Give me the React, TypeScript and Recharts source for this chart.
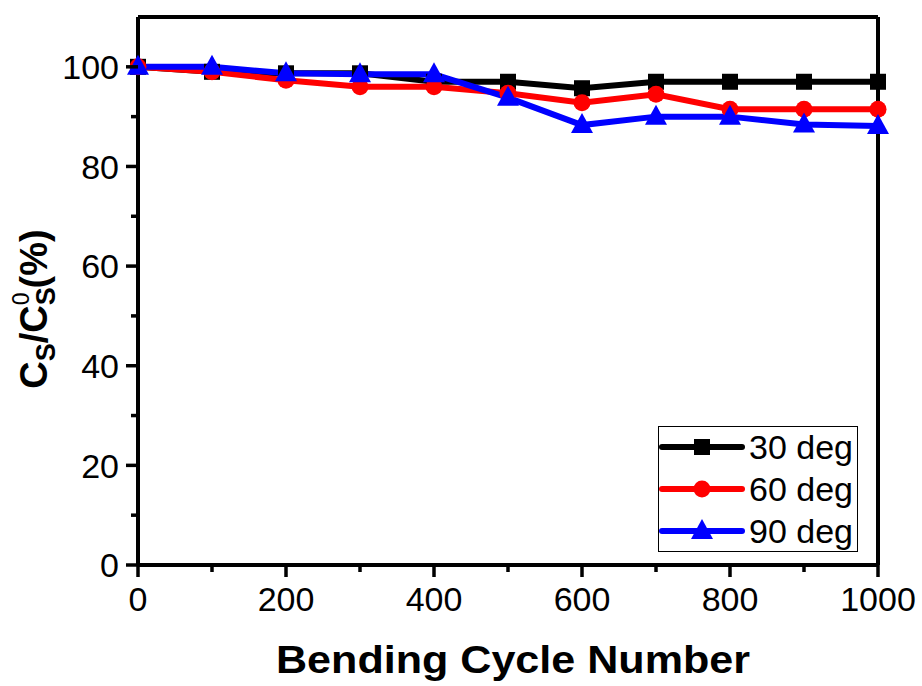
import React from 'react';
import { LineChart, Line, XAxis, YAxis, ReferenceLine, Legend } from 'recharts';

const cycles = [0, 100, 200, 300, 400, 500, 600, 700, 800, 900, 1000];
const deg30 = [100, 99, 98.7, 98.7, 97, 97, 95.7, 97, 97, 97, 97];
const deg60 = [100, 99, 97.3, 96, 96, 94.7, 92.8, 94.5, 91.5, 91.5, 91.5];
const deg90 = [100, 100, 98.7, 98.5, 98.5, 93.8, 88.3, 90, 90, 88.4, 88.1];

const xTicks = [0, 100, 200, 300, 400, 500, 600, 700, 800, 900, 1000];
const yTicks = [0, 10, 20, 30, 40, 50, 60, 70, 80, 90, 100];

const FONT = '"Liberation Sans", Arial, Helvetica, sans-serif';

const series = [
  { key: 'd30', name: '30 deg', color: '#000000', shape: 'square', values: deg30 },
  { key: 'd60', name: '60 deg', color: '#ff0000', shape: 'circle', values: deg60 },
  { key: 'd90', name: '90 deg', color: '#0000ff', shape: 'triangle', values: deg90 },
];

const data = cycles.map((c, i) => ({
  cycle: c,
  d30: deg30[i],
  d60: deg60[i],
  d90: deg90[i],
}));

const Marker = ({ shape, color, cx, cy }: { shape: string; color: string; cx: number; cy: number }) => {
  if (shape === 'square') return <rect x={cx - 8} y={cy - 8} width={16} height={16} fill={color} />;
  if (shape === 'circle') return <circle cx={cx} cy={cy} r={8.5} fill={color} />;
  return <polygon points={`${cx},${cy - 12} ${cx + 11},${cy + 8} ${cx - 11},${cy + 8}`} fill={color} />;
};

const XTick = (props: any) => {
  const { x, y, payload } = props;
  const major = payload.value % 200 === 0;
  return (
    <g>
      <line x1={x} x2={x} y1={y} y2={y + (major ? 12 : 7)} stroke="#000" strokeWidth={3.5} />
      {major && (
        <text x={x} y={y + 46} textAnchor="middle" fontSize={34} fontFamily={FONT} fill="#000">
          {payload.value}
        </text>
      )}
    </g>
  );
};

const YTick = (props: any) => {
  const { x, y, payload } = props;
  const major = payload.value % 20 === 0;
  return (
    <g>
      <line x1={x} x2={x - (major ? 12 : 7)} y1={y} y2={y} stroke="#000" strokeWidth={3.5} />
      {major && (
        <text x={x - 19} y={y} dy="0.36em" textAnchor="end" fontSize={34} fontFamily={FONT} fill="#000">
          {payload.value}
        </text>
      )}
    </g>
  );
};

const YTitle = () => (
  <text
    x={47}
    y={309}
    transform="rotate(-90 47 309)"
    textAnchor="middle"
    fontFamily={FONT}
    fontWeight="bold"
    fontSize={38}
    fill="#000"
  >
    C
    <tspan fontSize={27} dy={8}>S</tspan>
    <tspan dy={-8}>/C</tspan>
    <tspan fontSize={27} dy={8}>S</tspan>
    <tspan fontSize={23} fontWeight="normal" dx={-18} dy={-26}>0</tspan>
    <tspan dx={4} dy={18}>(%)</tspan>
  </text>
);

const XTitle = () => (
  <text
    x={513}
    y={673}
    textAnchor="middle"
    fontFamily={FONT}
    fontWeight="bold"
    fontSize={38}
    textLength={474}
    lengthAdjust="spacingAndGlyphs"
    fill="#000"
  >
    Bending Cycle Number
  </text>
);

const LegendBox = () => (
  <svg width={200} height={126} style={{ display: 'block' }}>
    <rect x={0.5} y={0.5} width={199} height={125} fill="#fff" stroke="#000" strokeWidth={1} />
    {series.map((s, i) => {
      const cy = 21 + i * 42;
      return (
        <g key={s.key}>
          <line x1={4} x2={84} y1={cy} y2={cy} stroke={s.color} strokeWidth={6} strokeLinecap="round" />
          <Marker shape={s.shape} color={s.color} cx={44} cy={cy} />
          <text x={91} y={cy} dy="0.36em" fontSize={34} fontFamily={FONT} fill="#000">
            {s.name}
          </text>
        </g>
      );
    })}
  </svg>
);

export default function App() {
  return (
    <div style={{ position: 'absolute', left: 0, top: 0, width: 922, height: 686, background: '#fff' }}>
      <LineChart width={922} height={686} data={data} margin={{ top: 17, right: 44, bottom: 0, left: 0 }}>
        <XAxis
          dataKey="cycle"
          type="number"
          domain={[0, 1000]}
          ticks={xTicks}
          interval={0}
          height={121}
          tickSize={0}
          tickMargin={0}
          tickLine={false}
          axisLine={{ stroke: '#000', strokeWidth: 4 }}
          tick={<XTick />}
          label={() => <XTitle />}
        />
        <YAxis
          type="number"
          domain={[0, 110]}
          ticks={yTicks}
          interval={0}
          width={138}
          tickSize={0}
          tickMargin={0}
          tickLine={false}
          axisLine={{ stroke: '#000', strokeWidth: 4 }}
          tick={<YTick />}
          label={() => <YTitle />}
        />
        <ReferenceLine y={110} stroke="#000" strokeWidth={4} />
        <ReferenceLine x={1000} stroke="#000" strokeWidth={4} />
        <Legend
          layout="vertical"
          align="center"
          verticalAlign="middle"
          wrapperStyle={{ left: 658, top: 426, width: 200, height: 126 }}
          content={() => <LegendBox />}
        />
        {series.map((s) => (
          <Line
            key={s.key}
            dataKey={s.key}
            name={s.name}
            stroke={s.color}
            strokeWidth={6}
            isAnimationActive={false}
            dot={(p: any) => <Marker key={`${s.key}-${p.index}`} shape={s.shape} color={s.color} cx={p.cx} cy={p.cy} />}
            activeDot={false}
          />
        ))}
      </LineChart>
    </div>
  );
}
